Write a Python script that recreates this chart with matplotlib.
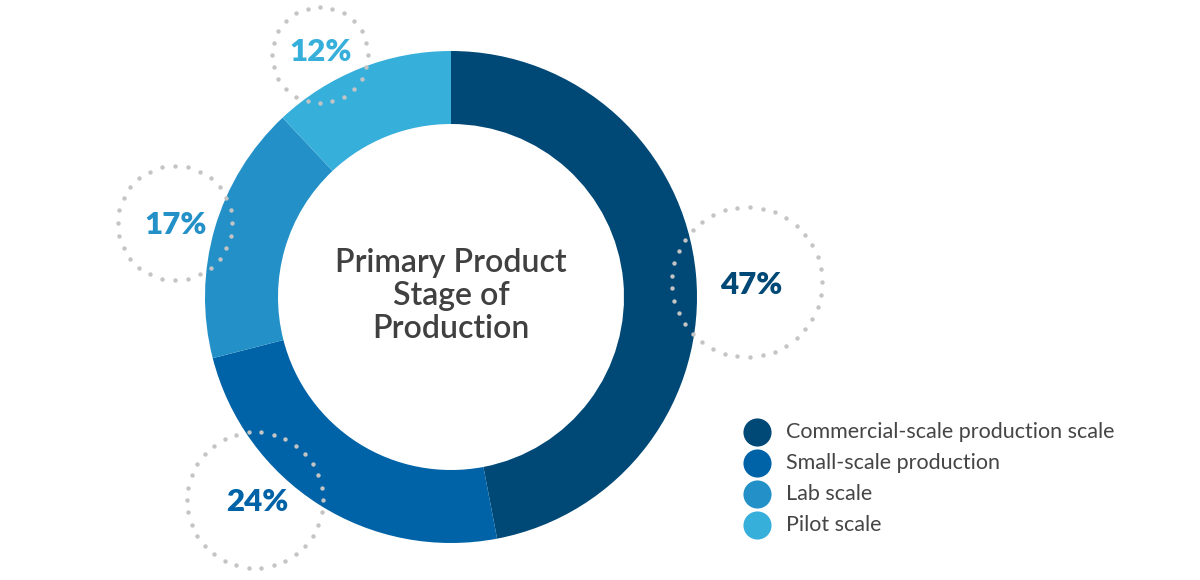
import numpy as np
import matplotlib
matplotlib.use("Agg")
import matplotlib.pyplot as plt

categories = ["Commercial-scale production scale", "Small-scale production", "Lab scale", "Pilot scale"]
values = [47, 24, 17, 12]
labels = ["47%", "24%", "17%", "12%"]
colors = ["#004876", "#0063a7", "#2391c7", "#37afdb"]
title_lines = "Primary Product\nStage of\nProduction"

W, H = 1200, 580
fig = plt.figure(figsize=(12, 5.8), dpi=100)
ax = fig.add_axes([0, 0, 1, 1])
ax.set_xlim(0, W)
ax.set_ylim(0, H)
ax.set_aspect("equal")
ax.axis("off")

def Y(y):
    return H - y

cx, cy, R, ring = 451, 297, 246, 73
ax.pie(values, colors=colors, startangle=90, counterclock=False,
       center=(cx, Y(cy)), radius=R, frame=True,
       wedgeprops=dict(width=ring, linewidth=0, edgecolor="none"))
ax.set_xlim(0, W)
ax.set_ylim(0, H)
ax.axis("off")

ax.text(cx, Y(296), title_lines, ha="center", va="center", fontsize=23,
        family="Lato", fontweight="semibold", color="#404040", linespacing=1.12)

# dotted circles with labels: (center x, center y, radius, text x, text y)
bubbles = [(747, 282, 75, 751, 285), (255, 500, 68, 257, 502),
           (175, 223, 57, 176, 225), (320, 55, 48, 321, 52)]
for (bx, by, br, tx, ty), lab, col in zip(bubbles, labels, colors):
    n = int(round(2 * np.pi * br / 12.6))
    t = np.linspace(0, 2 * np.pi, n, endpoint=False)
    ax.scatter(bx + br * np.cos(t), Y(by) + br * np.sin(t), s=10, color="#c4c4c4",
               linewidths=0, zorder=5)
    ax.text(tx, Y(ty), lab, ha="center", va="center", fontsize=22.5,
            family="Lato", fontweight="heavy", color=col, zorder=6)

# legend
ly0, ldy = 432, 31
for i, (cat, col) in enumerate(zip(categories, colors)):
    y = Y(ly0 + i * ldy)
    ax.scatter([757], [y], s=410, color=col, linewidths=0, zorder=5)
    ax.text(786, y, cat, ha="left", va="center", fontsize=15.5, family="Lato",
            color="#454545")

fig.savefig("out.png", dpi=100)
